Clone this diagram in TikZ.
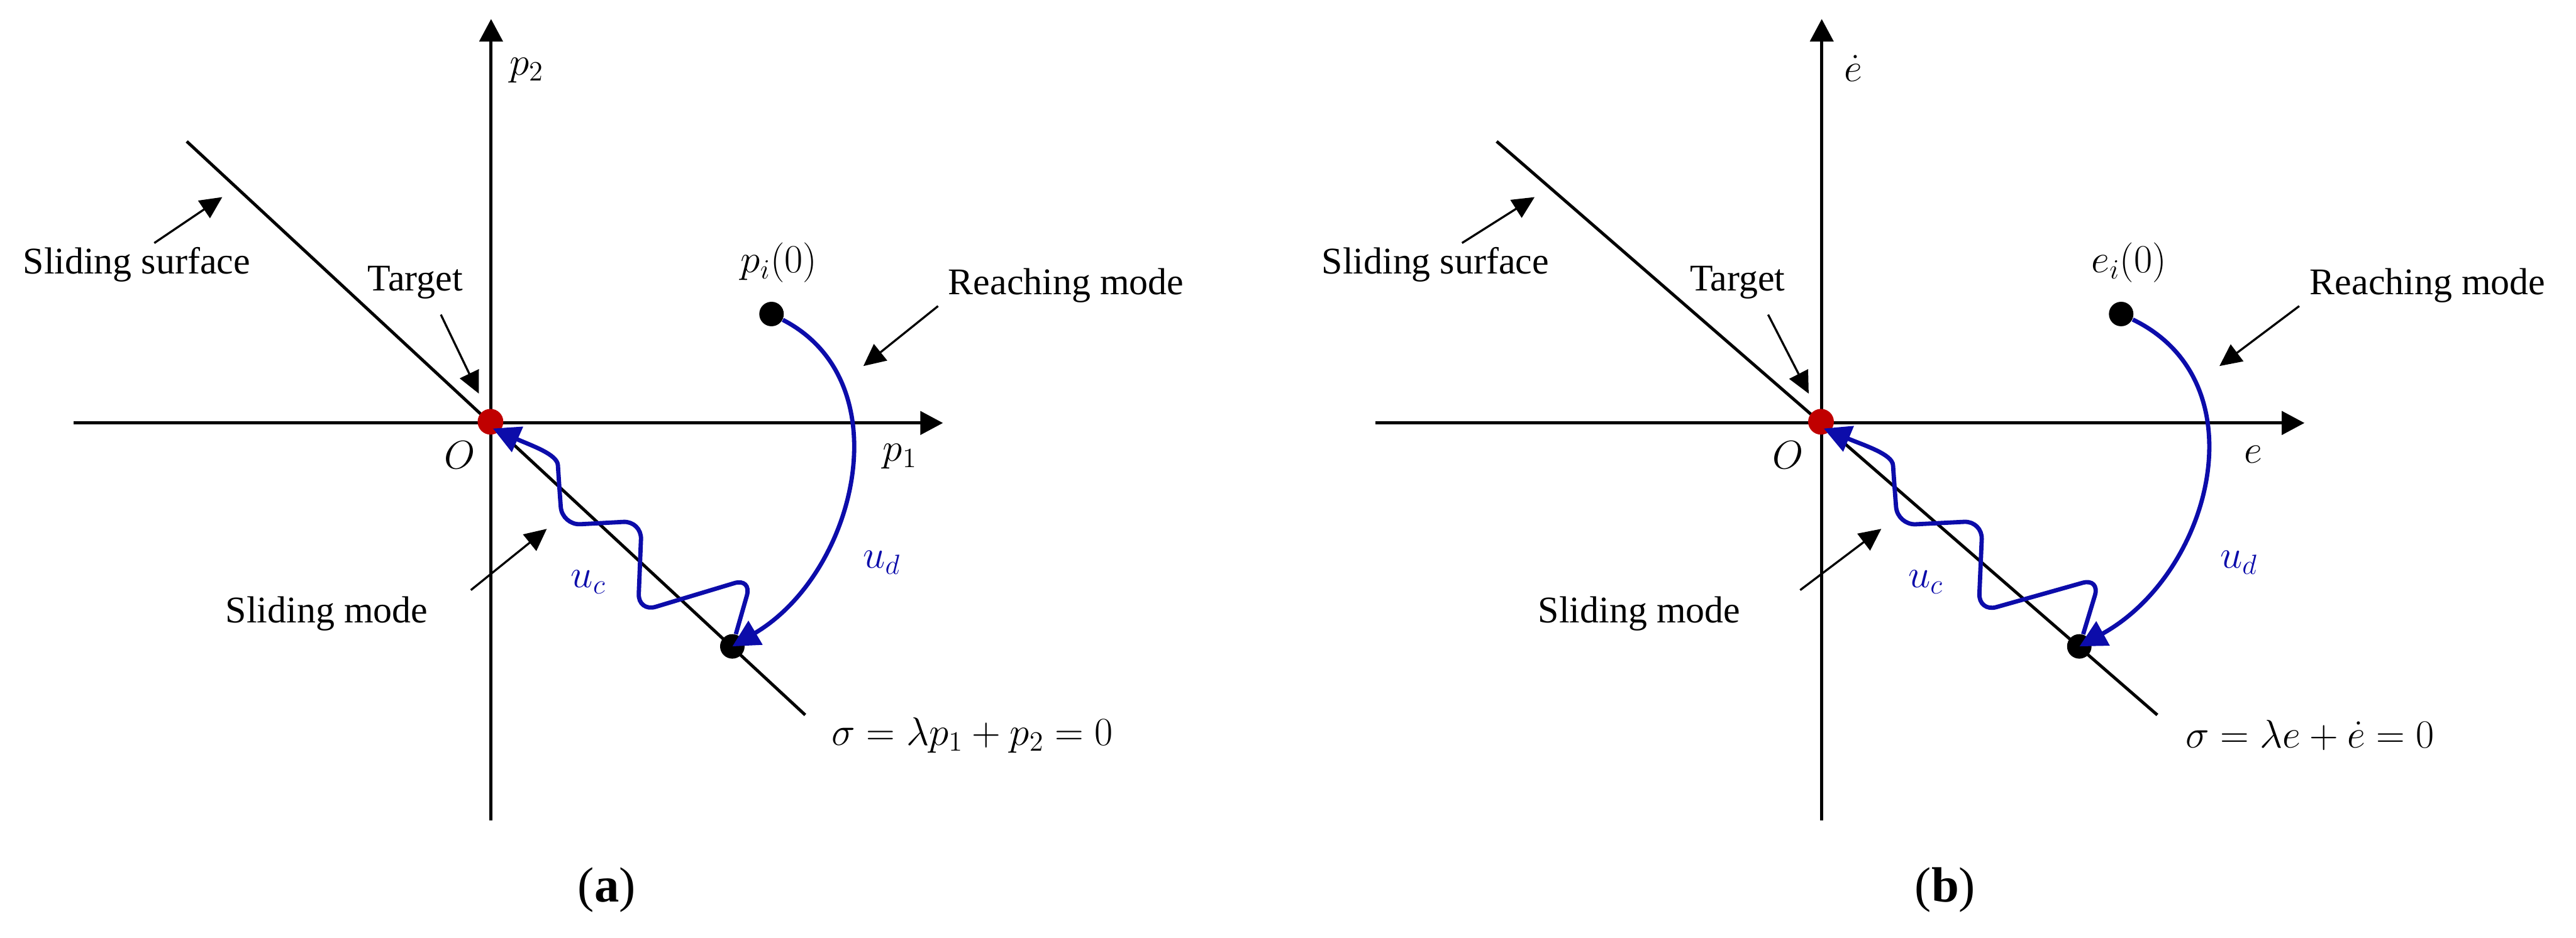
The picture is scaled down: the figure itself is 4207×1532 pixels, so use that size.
\RequirePackage{fix-cm}
\documentclass[tikz,border=0pt]{standalone}
\usepackage{fontspec}
\setmainfont{Liberation Serif}
\usetikzlibrary{arrows.meta,calc}
\definecolor{cblue}{RGB}{12,12,170}
\definecolor{cred}{RGB}{192,0,0}
\begin{document}
\begin{tikzpicture}[x=0.01cm,y=-0.01cm,
  font=\fontsize{17.5}{21}\selectfont,
  axisline/.style={line width=0.053cm,-{Triangle[length=0.37cm,width=0.38cm]}},
  surfline/.style={line width=0.05cm},
  notearrow/.style={line width=0.034cm,-{Triangle[length=0.36cm,width=0.34cm]}},
  trajline/.style={cblue,line width=0.07cm,-{Triangle[length=0.44cm,width=0.44cm]}},
  wavy/.style={trajline,rounded corners=0.3cm},
  dotb/.style={circle,fill=black,inner sep=0pt,minimum size=0.4cm},
  dotr/.style={circle,fill=cred,inner sep=0pt,minimum size=0.42cm},
  lbl/.style={inner sep=0pt},
  mlbl/.style={inner sep=0pt,font=\fontsize{18.5}{22}\selectfont},
  captext/.style={inner sep=0pt,font=\fontsize{23}{27}\selectfont},
]
\useasboundingbox (0,0) rectangle (4207,1532);

% ---------------- panel (a) ----------------
\begin{scope}
\coordinate (aXL) at (120,691);
\coordinate (aXR) at (1540,691);
\coordinate (aYB) at (802,1340);
\coordinate (aYT) at (802,31);
\coordinate (aSL1) at (305,231);
\coordinate (aSL2) at (1315,1168);
\draw[axisline] (aXL) -- (aXR);
\draw[axisline] (aYB) -- (aYT);
\draw[surfline] (aSL1) -- (aSL2);
\node[dotr] (aO) at (801,689) {};
\node[dotb] (aPI) at (1260,513) {};
\node[dotb] (aF) at (1196,1056) {};
\coordinate (aOt) at (805,700);

\node[mlbl] (ap2) at (860,115) {$p_2$};
\node[mlbl] (aOl) at (751,743) {$O$};
\node[mlbl] (ap1) at (1470,746) {$p_1$};
\node[mlbl] (api) at (1272,429) {$p_i(0)$};
\node[mlbl,text=cblue] (aud) at (1440,919) {$u_d$};
\node[mlbl,text=cblue] (auc) at (961,951) {$u_c$};
\node[mlbl,anchor=west] (aeq) at (1358,1201) {$\sigma=\lambda p_1+p_2=0$};
\node[lbl,anchor=base west] (ass) at (37,447) {Sliding surface};
\node[lbl,anchor=base west] (atg) at (600,475) {Target};
\node[lbl,anchor=base west] (arm) at (1548,481) {Reaching mode};
\node[lbl,anchor=base west] (asm) at (368,1017) {Sliding mode};
\node[captext] (acap) at (991,1454) {(\textbf{a})};

\coordinate (aA1) at (252,397); \coordinate (aA2) at (363,322);
\coordinate (aB1) at (720,514); \coordinate (aB2) at (782,643);
\coordinate (aC1) at (1532,500); \coordinate (aC2) at (1410,598);
\coordinate (aD1) at (769,964); \coordinate (aD2) at (893,864);
\draw[notearrow] (aA1) -- (aA2);
\draw[notearrow] (aB1) -- (aB2);
\draw[notearrow] (aC1) -- (aC2);
\draw[notearrow] (aD1) -- (aD2);

\draw[trajline] (aPI) .. controls (1475,624) and (1398,937) .. (aF.center);
\draw[wavy] (aF) -- (1228,944) -- (1042,1000) -- (1048,851) -- (918,858) -- (913,790) .. controls (910,742) and (868,728) .. (aOt);
\end{scope}

% ---------------- panel (b) ----------------
\begin{scope}[shift={(2975,0)},xscale=1.068,shift={(-802,0)}]
\coordinate (bXL) at (120,691);
\coordinate (bXR) at (1540,691);
\coordinate (bYB) at (802,1340);
\coordinate (bYT) at (802,31);
\coordinate (bSL1) at (305,231);
\coordinate (bSL2) at (1315,1168);
\draw[axisline] (bXL) -- (bXR);
\draw[axisline] (bYB) -- (bYT);
\draw[surfline] (bSL1) -- (bSL2);
\node[dotr] (bO) at (801,689) {};
\node[dotb] (bPI) at (1260,513) {};
\node[dotb] (bF) at (1196,1056) {};
\coordinate (bOt) at (805,700);

\node[mlbl] (be2) at (850,112) {$\dot e$};
\node[mlbl] (bOl) at (751,743) {$O$};
\node[mlbl] (be1) at (1462,742) {$e$};
\node[mlbl] (bei) at (1272,429) {$e_i(0)$};
\node[mlbl,text=cblue] (bud) at (1440,919) {$u_d$};
\node[mlbl,text=cblue] (buc) at (961,951) {$u_c$};
\node[mlbl,anchor=west] (beq) at (1358,1201) {$\sigma=\lambda e+\dot e=0$};
\node[lbl,anchor=base west] (bss) at (37,447) {Sliding surface};
\node[lbl,anchor=base west] (btg) at (600,475) {Target};
\node[lbl,anchor=base west] (brm) at (1548,481) {Reaching mode};
\node[lbl,anchor=base west] (bsm) at (368,1017) {Sliding mode};
\node[captext] (bcap) at (991,1454) {(\textbf{b})};

\coordinate (bA1) at (252,397); \coordinate (bA2) at (363,322);
\coordinate (bB1) at (720,514); \coordinate (bB2) at (782,643);
\coordinate (bC1) at (1532,500); \coordinate (bC2) at (1410,598);
\coordinate (bD1) at (769,964); \coordinate (bD2) at (893,864);
\draw[notearrow] (bA1) -- (bA2);
\draw[notearrow] (bB1) -- (bB2);
\draw[notearrow] (bC1) -- (bC2);
\draw[notearrow] (bD1) -- (bD2);

\draw[trajline] (bPI) .. controls (1475,624) and (1398,937) .. (bF.center);
\draw[wavy] (bF) -- (1228,944) -- (1042,1000) -- (1048,851) -- (918,858) -- (913,790) .. controls (910,742) and (868,728) .. (bOt);
\end{scope}
\end{tikzpicture}
\end{document}
